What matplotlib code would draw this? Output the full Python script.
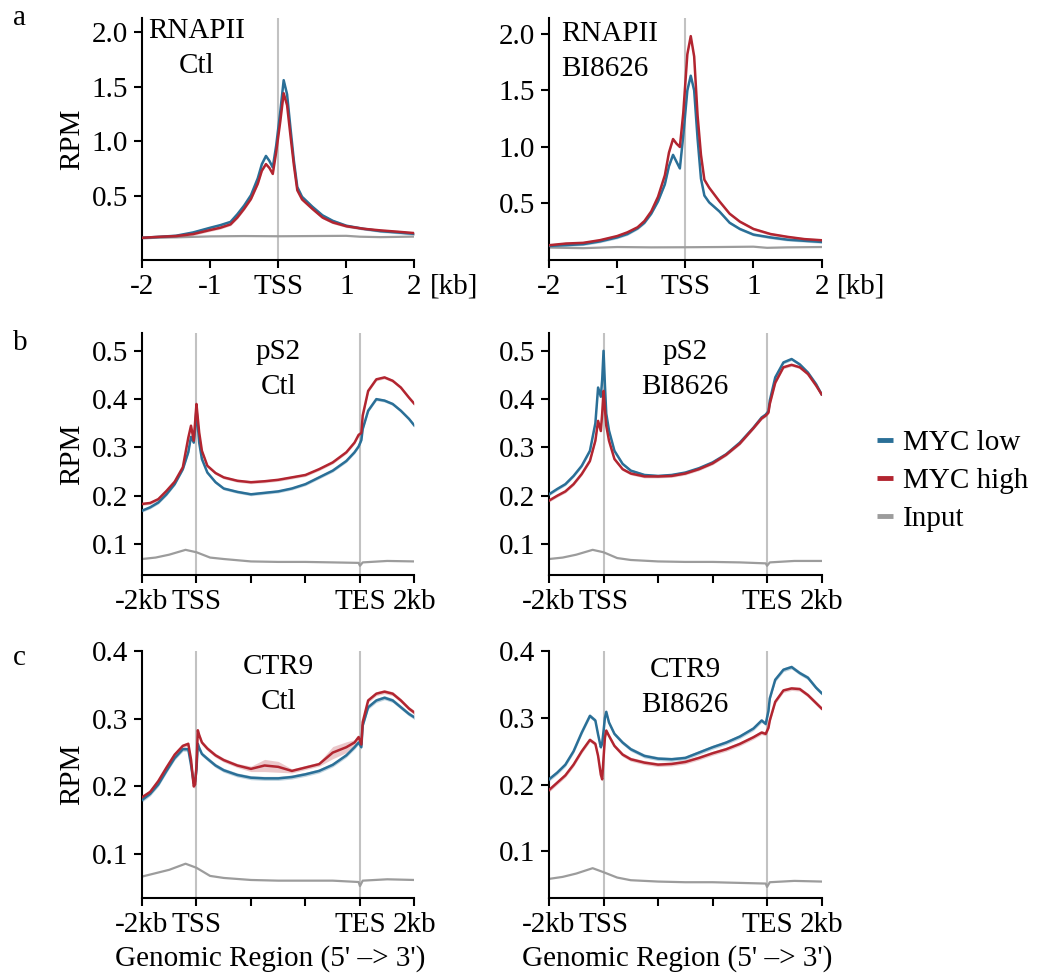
import matplotlib
matplotlib.use('Agg')
import matplotlib.pyplot as plt
from matplotlib.lines import Line2D
from matplotlib.transforms import offset_copy
import numpy as np

plt.rcParams['font.family'] = ['Liberation Serif', 'DejaVu Serif']
plt.rcParams['font.size'] = 21

BLUE = '#2a6f97'
RED = '#b22530'
GRAY = '#9c9c9c'
VLINE = '#c2c2c2'

### Row a: RNAPII around the TSS (kb)
A_X = [-2.0, -1.75, -1.5, -1.25, -1.0, -0.85, -0.7, -0.6, -0.5, -0.4, -0.3,
       -0.24, -0.18, -0.13, -0.08, -0.03, 0.03, 0.08, 0.13, 0.18, 0.23, 0.28,
       0.35, 0.5, 0.65, 0.8, 1.0, 1.25, 1.5, 1.75, 2.0]
RNAPII_CTL_LOW = [0.114, 0.123, 0.133, 0.163, 0.206, 0.23, 0.26, 0.33, 0.41, 0.505, 0.66,
                  0.79, 0.865, 0.82, 0.76, 0.96, 1.27, 1.56, 1.43, 1.12, 0.82, 0.58,
                  0.49, 0.40, 0.32, 0.27, 0.225, 0.197, 0.175, 0.163, 0.15]
RNAPII_CTL_HIGH = [0.114, 0.123, 0.13, 0.148, 0.185, 0.206, 0.237, 0.30, 0.38, 0.47, 0.61,
                   0.73, 0.79, 0.755, 0.70, 0.90, 1.18, 1.44, 1.33, 1.05, 0.78, 0.55,
                   0.466, 0.38, 0.30, 0.255, 0.22, 0.197, 0.182, 0.17, 0.157]
RNAPII_BI_LOW = [0.125, 0.132, 0.14, 0.165, 0.20, 0.23, 0.28, 0.33, 0.41, 0.52, 0.67,
                 0.83, 0.93, 0.87, 0.81, 1.1, 1.5, 1.63, 1.5, 1.075, 0.72, 0.57,
                 0.51, 0.43, 0.33, 0.275, 0.225, 0.20, 0.18, 0.17, 0.16]
RNAPII_BI_HIGH = [0.131, 0.146, 0.152, 0.176, 0.212, 0.245, 0.29, 0.345, 0.43, 0.56, 0.75,
                  0.95, 1.07, 1.03, 1.0, 1.3, 1.82, 1.98, 1.8, 1.28, 0.93, 0.71,
                  0.64, 0.52, 0.41, 0.34, 0.275, 0.23, 0.205, 0.185, 0.175]
A_INPUT_X = [-2.0, -1.5, -1.0, -0.5, 0.0, 0.5, 1.0, 1.2, 1.5, 2.0]
RNAPII_CTL_INPUT = [0.115, 0.118, 0.127, 0.13, 0.128, 0.13, 0.132, 0.124, 0.12, 0.125]
RNAPII_BI_INPUT = [0.11, 0.105, 0.115, 0.112, 0.113, 0.115, 0.118, 0.108, 0.112, 0.115]

### Rows b, c: scaled gene body, TSS at 2, TES at 8 (kb from -2kb)
BC_X = [0, 0.3, 0.6, 0.9, 1.2, 1.5, 1.7, 1.8, 1.9, 1.95, 2.0, 2.05, 2.1, 2.2, 2.4,
        2.7, 3.0, 3.5, 4.0, 4.5, 5.0, 5.5, 6.0, 6.5, 7.0, 7.5, 7.8, 7.95, 8.05,
        8.1, 8.3, 8.6, 8.9, 9.2, 9.5, 9.8, 10]
PS2_CTL_LOW = [0.169, 0.176, 0.186, 0.203, 0.224, 0.255, 0.29, 0.322, 0.31, 0.338, 0.38,
               0.345, 0.31, 0.276, 0.248, 0.228, 0.215, 0.208, 0.203, 0.206, 0.209,
               0.215, 0.224, 0.238, 0.252, 0.272, 0.29, 0.302, 0.315, 0.338, 0.376,
               0.40, 0.397, 0.39, 0.376, 0.359, 0.345]
PS2_CTL_HIGH = [0.183, 0.185, 0.193, 0.21, 0.229, 0.259, 0.32, 0.345, 0.314, 0.352, 0.39,
                0.36, 0.331, 0.293, 0.262, 0.247, 0.238, 0.231, 0.228, 0.23, 0.233,
                0.238, 0.243, 0.255, 0.269, 0.29, 0.31, 0.326, 0.33, 0.366, 0.417,
                0.441, 0.445, 0.438, 0.424, 0.403, 0.39]
PS2_BI_LOW = [0.203, 0.214, 0.224, 0.241, 0.262, 0.293, 0.35, 0.424, 0.405, 0.44, 0.50,
              0.43, 0.37, 0.335, 0.293, 0.266, 0.252, 0.243, 0.241, 0.243, 0.248,
              0.257, 0.269, 0.286, 0.31, 0.341, 0.362, 0.368, 0.375, 0.397, 0.445,
              0.476, 0.483, 0.472, 0.455, 0.431, 0.41]
PS2_BI_HIGH = [0.19, 0.2, 0.209, 0.224, 0.245, 0.272, 0.314, 0.355, 0.334, 0.37, 0.417,
               0.38, 0.345, 0.314, 0.276, 0.255, 0.246, 0.24, 0.24, 0.241, 0.246,
               0.255, 0.267, 0.285, 0.308, 0.34, 0.36, 0.366, 0.372, 0.39, 0.434,
               0.466, 0.471, 0.466, 0.452, 0.428, 0.41]
CTR9_CTL_LOW = [0.18, 0.189, 0.203, 0.223, 0.242, 0.255, 0.255, 0.232, 0.205, 0.207, 0.225,
                0.263, 0.257, 0.248, 0.241, 0.231, 0.224, 0.217, 0.213, 0.212, 0.212,
                0.214, 0.218, 0.223, 0.232, 0.246, 0.258, 0.265, 0.258, 0.29, 0.317,
                0.327, 0.331, 0.327, 0.317, 0.307, 0.302]
CTR9_CTL_HIGH = [0.184, 0.192, 0.208, 0.228, 0.247, 0.26, 0.263, 0.24, 0.2, 0.203, 0.23,
                 0.283, 0.276, 0.265, 0.256, 0.246, 0.239, 0.231, 0.226, 0.231, 0.229,
                 0.223, 0.228, 0.233, 0.25, 0.258, 0.265, 0.273, 0.262, 0.295, 0.327,
                 0.337, 0.34, 0.337, 0.327, 0.315, 0.309]
CTR9_CTL_HIGH_SEM = [0.003, 0.003, 0.003, 0.003, 0.003, 0.003, 0.003, 0.003, 0.003, 0.003,
                     0.003, 0.003, 0.003, 0.003, 0.003, 0.003, 0.003, 0.003, 0.004, 0.009,
                     0.008, 0.003, 0.003, 0.003, 0.009, 0.008, 0.004, 0.003, 0.003, 0.003,
                     0.003, 0.003, 0.003, 0.003, 0.003, 0.003, 0.003]
CTR9_BI_LOW = [0.208, 0.218, 0.23, 0.25, 0.278, 0.303, 0.296, 0.275, 0.256, 0.262, 0.28,
               0.3, 0.309, 0.293, 0.276, 0.263, 0.253, 0.243, 0.239, 0.238, 0.24,
               0.248, 0.256, 0.263, 0.272, 0.284, 0.296, 0.291, 0.31, 0.329, 0.357,
               0.372, 0.376, 0.367, 0.36, 0.345, 0.337]
CTR9_BI_HIGH = [0.192, 0.203, 0.214, 0.23, 0.25, 0.267, 0.261, 0.243, 0.215, 0.208, 0.24,
                0.27, 0.281, 0.273, 0.258, 0.245, 0.238, 0.233, 0.23, 0.231, 0.234,
                0.24, 0.247, 0.253, 0.261, 0.271, 0.278, 0.276, 0.285, 0.296, 0.324,
                0.341, 0.344, 0.343, 0.334, 0.322, 0.314]
BC_INPUT_X = [0, 0.5, 1.0, 1.6, 2.0, 2.5, 3.0, 4, 5, 6, 7, 7.95, 8.0, 8.1, 9, 10]
PS2_CTL_INPUT = [0.069, 0.072, 0.078, 0.088, 0.083, 0.072, 0.069, 0.064, 0.063, 0.063,
                 0.062, 0.061, 0.055, 0.062, 0.065, 0.064]
PS2_BI_INPUT = [0.069, 0.072, 0.078, 0.088, 0.083, 0.071, 0.067, 0.064, 0.063, 0.063,
                0.062, 0.06, 0.055, 0.062, 0.065, 0.065]
CTR9_CTL_INPUT = [0.067, 0.072, 0.077, 0.086, 0.08, 0.068, 0.065, 0.062, 0.061, 0.061,
                  0.061, 0.059, 0.053, 0.061, 0.063, 0.062]
CTR9_BI_INPUT = [0.059, 0.062, 0.067, 0.075, 0.069, 0.061, 0.057, 0.055, 0.054, 0.054,
                 0.053, 0.052, 0.047, 0.054, 0.056, 0.055]

LEGEND_LABELS = ['MYC low', 'MYC high', 'Input']
A_TICKS = [-2, -1, 0, 1, 2]
A_TICKLABELS = ['-2', '-1', 'TSS', '1', '2']
BC_TICKS = [0, 2, 4, 6, 8, 10]
BC_TICKLABELS = ['-2kb', 'TSS', '', '', 'TES', '2kb']

FS = 21
TICK_LEN = 6
TICK_PAD = 4


def draw_profile(ax, x, low, high, input_x, input_vals, band=0.003, high_band=None):
    '''
    Draws the two MYC groups with a thin error band plus the input track.
    '''
    x = np.asarray(x)
    low = np.asarray(low)
    high = np.asarray(high)
    hb = np.asarray(high_band) if high_band is not None else band
    ax.plot(input_x, input_vals, color=GRAY, lw=1.6, zorder=2)
    ax.fill_between(x, low - band, low + band, color=BLUE, alpha=0.3, lw=0, zorder=3)
    ax.plot(x, low, color=BLUE, lw=1.8, zorder=4)
    ax.fill_between(x, high - hb, high + hb, color=RED, alpha=0.25, lw=0, zorder=3)
    ax.plot(x, high, color=RED, lw=1.8, zorder=5)


def style_axis(ax, ylim, yticks):
    for s in ('top', 'right'):
        ax.spines[s].set_visible(False)
    for s in ('left', 'bottom'):
        ax.spines[s].set_linewidth(1.5)
    ax.tick_params(length=TICK_LEN, width=1.5, pad=TICK_PAD, labelsize=FS)
    ax.set_ylim(*ylim)
    ax.set_yticks(yticks)
    ax.set_yticklabels(['%.1f' % t for t in yticks])


def main():
    fig = plt.figure(figsize=(10.43, 9.75), dpi=100)

    lefts = [0.1361, 0.5264]
    w = 0.2613
    rows = [(0.7333, 0.2482), (0.4103, 0.2482), (0.0787, 0.2536)]

    axes = [[fig.add_axes([l, b, w, h]) for l in lefts] for b, h in rows]

    # row a
    a_data = [(RNAPII_CTL_LOW, RNAPII_CTL_HIGH, RNAPII_CTL_INPUT, 'RNAPII\nCtl',
               (0.2, 1.0, 'center'), (-0.09, 2.13)),
              (RNAPII_BI_LOW, RNAPII_BI_HIGH, RNAPII_BI_INPUT, 'RNAPII\nBI8626',
               (0.044, 0.988, 'left'), (0.0, 2.14))]
    for ax, (low, high, inp, title, tpos, ylim) in zip(axes[0], a_data):
        ax.axvline(0, color=VLINE, lw=1.5, zorder=1)
        draw_profile(ax, A_X, low, high, A_INPUT_X, inp, band=0.012)
        style_axis(ax, ylim, [0.5, 1.0, 1.5, 2.0])
        ax.set_xlim(-2, 2)
        ax.set_xticks(A_TICKS)
        ax.set_xticklabels(A_TICKLABELS)
        ax.text(tpos[0], tpos[1], title, transform=ax.transAxes, ha=tpos[2],
                va='top', multialignment=tpos[2], linespacing=1.45, fontsize=FS)
        trans = ax.get_xaxis_text1_transform(TICK_LEN + TICK_PAD)[0]
        trans = offset_copy(trans, fig=fig, x=10.8, y=0, units='points')
        ax.text(2, 0, '[kb]', transform=trans, ha='left', va='top', fontsize=FS)

    # rows b and c
    bc_data = [
        (axes[1][0], PS2_CTL_LOW, PS2_CTL_HIGH, PS2_CTL_INPUT, None, 'pS2\nCtl',
         0.975, (0.036, 0.537), [0.1, 0.2, 0.3, 0.4, 0.5]),
        (axes[1][1], PS2_BI_LOW, PS2_BI_HIGH, PS2_BI_INPUT, None, 'pS2\nBI8626',
         0.975, (0.036, 0.537), [0.1, 0.2, 0.3, 0.4, 0.5]),
        (axes[2][0], CTR9_CTL_LOW, CTR9_CTL_HIGH, CTR9_CTL_INPUT, CTR9_CTL_HIGH_SEM,
         'CTR9\nCtl', 0.988, (0.035, 0.40), [0.1, 0.2, 0.3, 0.4]),
        (axes[2][1], CTR9_BI_LOW, CTR9_BI_HIGH, CTR9_BI_INPUT, None, 'CTR9\nBI8626',
         0.974, (0.03, 0.40), [0.1, 0.2, 0.3, 0.4]),
    ]
    for ax, low, high, inp, hsem, title, ty, ylim, yt in bc_data:
        ax.axvline(2, color=VLINE, lw=1.5, zorder=1)
        ax.axvline(8, color=VLINE, lw=1.5, zorder=1)
        draw_profile(ax, BC_X, low, high, BC_INPUT_X, inp, band=0.003, high_band=hsem)
        style_axis(ax, ylim, yt)
        ax.set_xlim(0, 10)
        ax.set_xticks(BC_TICKS)
        ax.set_xticklabels(BC_TICKLABELS)
        ax.text(0.5, ty, title, transform=ax.transAxes, ha='center', va='top',
                linespacing=1.45, fontsize=FS)

    for ax in axes[2]:
        ax.set_xlabel("Genomic Region (5' \u2013> 3')", fontsize=FS)
        ax.xaxis.set_label_coords(0.47, -0.19)

    for row in axes:
        row[0].set_ylabel('RPM', fontsize=FS)
        row[0].yaxis.set_label_coords(-0.21, 0.5)

    for letter, yb in zip('abc', [0.9744, 0.641, 0.318]):
        fig.text(13 / 1043, yb, letter, ha='left', va='baseline', fontsize=FS)

    handles = [Line2D([], [], color=c, lw=3.5, solid_capstyle='butt')
               for c in (BLUE, RED, GRAY)]
    fig.legend(handles, LEGEND_LABELS, loc='center left',
               bbox_to_anchor=(877 / 1043, 1 - 481 / 975), frameon=False,
               borderpad=0, borderaxespad=0, handlelength=0.55,
               handletextpad=0.35, labelspacing=0.4, fontsize=FS)

    fig.savefig('out.png', dpi=100)


if __name__ == "__main__":
    main()
